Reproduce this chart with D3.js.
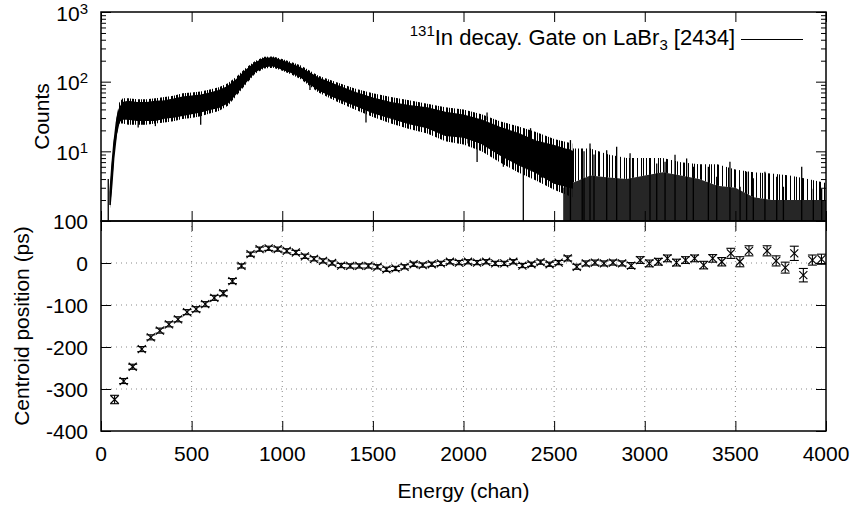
<!DOCTYPE html>
<html>
<head>
<meta charset="utf-8">
<script src="https://cdn.jsdelivr.net/npm/d3@7"></script>
<style>
body { margin: 0; background: #fff; }
svg { font-family: "Liberation Sans", Arial, Helvetica, sans-serif; }
</style>
</head>
<body>
<div id="chart"></div>
<script>
const specE  = [50, 60, 70, 85, 100, 120, 150, 200, 250, 300, 350, 400, 450, 500, 550, 600, 650, 700, 750, 800,
                850, 900, 950, 1000, 1050, 1100, 1200, 1300, 1400, 1500, 1600, 1700, 1800, 1900, 2000, 2100, 2200,
                2300, 2400, 2500, 2600];
const specLo = [1.7, 3.5, 8, 18, 27, 29, 29, 28, 28, 28, 30, 31, 33, 35, 37, 40, 43, 50, 70, 100,
                140, 165, 170, 152, 136, 118, 76, 58, 46, 36, 30, 25, 22, 17, 16, 13, 9,
                6.5, 5, 3.5, 3];
const specHi = [2.6, 6, 12, 26, 40, 50, 52, 50, 50, 52, 53, 56, 60, 62, 64, 68, 74, 85, 108, 145,
                185, 215, 218, 198, 178, 158, 112, 88, 70, 58, 50, 45, 42, 36, 33, 28, 22,
                18, 14, 12, 10];
const outLo  = [1.5, 3, 7, 16, 25, 25, 24, 24, 24, 25, 26, 27, 29, 30, 32, 35, 38, 45, 64, 92,
                130, 155, 158, 143, 127, 109, 70, 52, 40, 31, 25, 21, 18, 14, 12.5, 10, 7,
                5, 3.8, 2.8, 2.2];
const outHi  = [2.8, 7, 14, 30, 50, 58, 58, 56, 56, 58, 60, 63, 68, 70, 72, 77, 83, 95, 120, 158,
                198, 228, 230, 212, 192, 172, 122, 98, 80, 68, 60, 54, 48, 43, 40, 34, 27,
                23, 19, 15, 13];

// tail where many channels drop to zero: top of the mostly black part and top of the sparse spikes
const tailE     = [2550, 2600, 2700, 2800, 2900, 3000, 3100, 3200, 3300, 3400, 3500, 3600, 3700, 3800, 3900, 4000];
const tailDense = [3, 3.5, 4.5, 4.2, 4, 4.5, 5, 4.5, 4, 3.2, 3, 2.2, 2, 2, 2, 2];
const tailTop   = [10, 11, 11, 9, 8, 8, 8, 7, 6.5, 6.5, 5.5, 5, 4.8, 4.5, 4, 3.5];

// single channels that stick out of the band
const spikeE  = [40, 205, 230, 300, 550, 1153, 1462, 2025, 2075, 2130, 2220, 2330, 2370, 2430, 2590, 2655, 2665,
                 2698, 2720, 2790, 2845, 2919, 3029, 3066, 3112, 3167, 3231, 3268, 3351, 3397, 3470, 3526, 3562,
                 3599, 3663, 3728, 3765, 3866, 3930, 3976];
const spikeLo = [1, 22, 24, 23, 24, 76, 26, 13, 7, 28, 6, 1, 14, 4.2, 1, 1, 1,
                 1, 1, 1, 1, 1, 1, 1, 1, 1, 1, 1, 1, 1, 1, 1, 1,
                 1, 1, 1, 1, 1, 1, 1];
const spikeHi = [4, 35, 35, 35, 40, 100, 45, 25, 20, 36, 15, 10, 21.5, 8, 14.5, 10, 10,
                 13, 9, 10.4, 11.6, 9.4, 7.5, 6.7, 7.1, 8.9, 7.9, 6, 6, 4.3, 7.1, 3.1, 5.1,
                 4.1, 5.1, 4.3, 3.1, 6, 2.9, 2.9];

// Lower panel: centroid position (ps) with errors
const centE = [75, 125, 175, 225, 275, 325, 375, 425, 475, 525, 575, 625, 675, 725, 775, 825, 875, 925, 975,
               1025, 1075, 1125, 1175, 1225, 1275, 1325, 1375, 1425, 1475, 1525, 1575, 1625, 1675, 1725, 1775,
               1825, 1875, 1925, 1975, 2025, 2075, 2125, 2175, 2225, 2275, 2325, 2375, 2425, 2475, 2525, 2575,
               2625, 2675, 2725, 2775, 2825, 2875, 2925, 2975, 3025, 3075, 3125, 3175, 3225, 3275, 3325, 3375,
               3425, 3475, 3525, 3575, 3675, 3725, 3775, 3825, 3875, 3925, 3975];
const centVal = [-325, -281, -247, -205, -177, -161, -146, -134, -117, -110, -98, -83, -72, -43, -7, 21, 33, 35, 33,
                 29, 25, 16, 10, 5, 0, -6, -7, -7, -7, -9, -15, -13, -9, -3, -5,
                 -3, -1, 3, 1, 3, 1, 3, -1, -1, 3, -6, -3, 2, -3, 1, 11,
                 -9, -1, 1, -1, 1, -1, -6, 7, -1, 3, 11, 1, 7, 11, -5, 11,
                 3, 23, 3, 29, 29, 5, -11, 23, -29, 7, 9];
const centErr = [10, 6, 6, 6, 6, 6, 6, 6, 6, 6, 6, 6, 6, 6, 5, 5, 5, 5, 5,
                 5, 5, 5, 5, 5, 5, 5, 5, 5, 5, 5, 5, 5, 5, 5, 5,
                 5, 5, 5, 5, 5, 5, 5, 5, 5, 5, 5, 5, 5, 5, 5, 6,
                 6, 6, 6, 6, 6, 6, 7, 8, 8, 8, 8, 8, 8, 8, 9, 9,
                 10, 12, 12, 12, 12, 12, 13, 17, 16, 12, 12];

const xTicks = [0, 500, 1000, 1500, 2000, 2500, 3000, 3500, 4000];
const logMajor = [1, 10, 100, 1000];
const logMinor = [2, 3, 4, 5, 6, 7, 8, 9, 20, 30, 40, 50, 60, 70, 80, 90, 200, 300, 400, 500, 600, 700, 800, 900];
const logLabels = [10, 100, 1000];
const linTicks = [100, 0, -100, -200, -300, -400];
const legendText = "In decay. Gate on LaBr";

// Layout
const W = 852, H = 511;
const left = 101, right = 826;
const top1 = 12, mid = 221, bot2 = 431;
const fs = "21px";

const svg = d3.select("#chart").append("svg")
    .attr("width", W)
    .attr("height", H);

const x = d3.scaleLinear().domain([0, 4000]).range([left, right]);
const y1 = d3.scaleLog().domain([1, 1000]).range([mid, top1]);
const y2 = d3.scaleLinear().domain([-400, 100]).range([bot2, mid]);

// uneven stripe patterns to imitate the channel-by-channel noise
const defs = svg.append("defs");
function stripes(id, period, bars) {
    const p = defs.append("pattern").attr("id", id)
        .attr("patternUnits", "userSpaceOnUse")
        .attr("width", period).attr("height", 10);
    bars.forEach(b => p.append("rect")
        .attr("x", b[0]).attr("y", 0).attr("width", b[1]).attr("height", 10).attr("fill", "#000"));
}
stripes("half", 11, [[0, 2], [3, 1], [6, 2], [9, 1]]);
stripes("sparse", 17, [[0, 1], [3, 2], [8, 1], [12, 1], [14, 1]]);
defs.append("clipPath").attr("id", "clipUp")
    .append("rect").attr("x", left).attr("y", top1).attr("width", right - left).attr("height", mid - top1);

// ---------- upper panel ----------
const up = svg.append("g");
const plotUp = up.append("g").attr("clip-path", "url(#clipUp)");

// tail (channels dropping to zero)
plotUp.append("path")
    .datum(tailE)
    .attr("d", d3.area().x(d => x(d)).y0(y1(1)).y1((d, i) => y1(tailDense[i])))
    .attr("fill", "#000")
    .attr("fill-opacity", 0.85);
plotUp.append("path")
    .datum(tailE)
    .attr("d", d3.area().x(d => x(d)).y0((d, i) => y1(tailDense[i])).y1((d, i) => y1(tailTop[i])))
    .attr("fill", "url(#sparse)");

// outer noise, then the solid core
plotUp.append("path")
    .datum(specE)
    .attr("d", d3.area().x(d => x(d)).y0((d, i) => y1(outLo[i])).y1((d, i) => y1(outHi[i])))
    .attr("fill", "url(#half)");
plotUp.append("path")
    .datum(specE)
    .attr("d", d3.area().x(d => x(d)).y0((d, i) => y1(specLo[i])).y1((d, i) => y1(specHi[i])))
    .attr("fill", "#000")
    .attr("stroke", "#000")
    .attr("stroke-width", 1.5);

// spikes
plotUp.selectAll(".spike")
    .data(spikeE)
    .enter().append("line")
    .attr("class", "spike")
    .attr("x1", d => x(d)).attr("x2", d => x(d))
    .attr("y1", (d, i) => y1(spikeLo[i]))
    .attr("y2", (d, i) => y1(spikeHi[i]))
    .attr("stroke", "#000")
    .attr("stroke-width", 1.3);

// axes of the upper panel (ticks only, labels drawn below)
function ticksOnly(axis, g) {
    g.call(axis);
    g.select(".domain").remove();
    g.selectAll("line").attr("stroke", "#000").attr("stroke-width", 1);
}
ticksOnly(d3.axisLeft(y1).tickValues(logMajor).tickSize(-10).tickFormat(""), up.append("g").attr("transform", `translate(${left},0)`));
ticksOnly(d3.axisLeft(y1).tickValues(logMinor).tickSize(-5).tickFormat(""), up.append("g").attr("transform", `translate(${left},0)`));
ticksOnly(d3.axisRight(y1).tickValues(logMajor).tickSize(-10).tickFormat(""), up.append("g").attr("transform", `translate(${right},0)`));
ticksOnly(d3.axisRight(y1).tickValues(logMinor).tickSize(-5).tickFormat(""), up.append("g").attr("transform", `translate(${right},0)`));
ticksOnly(d3.axisTop(x).tickValues(xTicks).tickSize(-10).tickFormat(""), up.append("g").attr("transform", `translate(0,${top1})`));
ticksOnly(d3.axisBottom(x).tickValues(xTicks).tickSize(-10).tickFormat(""), up.append("g").attr("transform", `translate(0,${mid})`));

// log labels 10^n
const logLab = up.selectAll(".logLab")
    .data(logLabels)
    .enter().append("text")
    .attr("class", "logLab")
    .attr("x", left - 13)
    .attr("y", d => y1(d) + 8.5)
    .attr("text-anchor", "end")
    .attr("font-size", fs);
logLab.append("tspan").text("10");
logLab.append("tspan").attr("dy", -7).attr("font-size", "15px").text(d => Math.round(Math.log10(d)));

up.append("rect")
    .attr("x", left).attr("y", top1)
    .attr("width", right - left).attr("height", mid - top1)
    .attr("fill", "none").attr("stroke", "#000").attr("stroke-width", 1.5);

up.append("text")
    .attr("transform", `translate(42,${(top1 + mid) / 2}) rotate(-90)`)
    .attr("text-anchor", "middle")
    .attr("dy", "0.35em")
    .attr("font-size", fs)
    .text("Counts");

// legend
const leg = up.append("text")
    .attr("x", 735).attr("y", 45)
    .attr("text-anchor", "end")
    .attr("font-size", "22px");
leg.append("tspan").attr("font-size", "15px").attr("dy", -9).text("131");
leg.append("tspan").attr("dy", 9).text(legendText);
leg.append("tspan").attr("font-size", "15px").attr("dy", 5).text("3");
leg.append("tspan").attr("dy", -5).text("\u00a0[2434]");
up.append("line")
    .attr("x1", 741).attr("x2", 803)
    .attr("y1", 39.5).attr("y2", 39.5)
    .attr("stroke", "#000").attr("stroke-width", 1.2);

// ---------- lower panel ----------
const lo = svg.append("g");

// dotted grid
lo.selectAll(".gx")
    .data(xTicks.slice(1, -1))
    .enter().append("line")
    .attr("class", "gx")
    .attr("x1", d => x(d)).attr("x2", d => x(d))
    .attr("y1", mid).attr("y2", bot2)
    .attr("stroke", "#888").attr("stroke-width", 1).attr("stroke-dasharray", "1,4");
lo.selectAll(".gy")
    .data(linTicks.slice(1, -1))
    .enter().append("line")
    .attr("class", "gy")
    .attr("x1", left).attr("x2", right)
    .attr("y1", d => y2(d)).attr("y2", d => y2(d))
    .attr("stroke", "#888").attr("stroke-width", 1).attr("stroke-dasharray", "1,4");

ticksOnly(d3.axisLeft(y2).tickValues(linTicks).tickSize(-10).tickFormat(""), lo.append("g").attr("transform", `translate(${left},0)`));
ticksOnly(d3.axisRight(y2).tickValues(linTicks).tickSize(-10).tickFormat(""), lo.append("g").attr("transform", `translate(${right},0)`));
ticksOnly(d3.axisTop(x).tickValues(xTicks).tickSize(-10).tickFormat(""), lo.append("g").attr("transform", `translate(0,${mid})`));
ticksOnly(d3.axisBottom(x).tickValues(xTicks).tickSize(-10).tickFormat(""), lo.append("g").attr("transform", `translate(0,${bot2})`));

lo.selectAll(".yLab")
    .data(linTicks)
    .enter().append("text")
    .attr("class", "yLab")
    .attr("x", left - 13)
    .attr("y", d => y2(d) + 7.5)
    .attr("text-anchor", "end")
    .attr("font-size", fs)
    .text(d => d);

lo.selectAll(".xLab")
    .data(xTicks)
    .enter().append("text")
    .attr("class", "xLab")
    .attr("x", d => x(d))
    .attr("y", 461)
    .attr("text-anchor", "middle")
    .attr("font-size", fs)
    .text(d => d);

// error bars with caps and an x marker
const pts = lo.selectAll(".pt")
    .data(centE)
    .enter().append("g")
    .attr("class", "pt")
    .attr("transform", (d, i) => `translate(${x(d)},${y2(centVal[i])})`)
    .attr("stroke", "#000")
    .attr("stroke-width", 1.1);
pts.append("line")
    .attr("x1", 0).attr("x2", 0)
    .attr("y1", (d, i) => y2(centVal[i] - centErr[i]) - y2(centVal[i]))
    .attr("y2", (d, i) => y2(centVal[i] + centErr[i]) - y2(centVal[i]));
pts.append("line")
    .attr("x1", -4.5).attr("x2", 4.5)
    .attr("y1", (d, i) => y2(centVal[i] - centErr[i]) - y2(centVal[i]))
    .attr("y2", (d, i) => y2(centVal[i] - centErr[i]) - y2(centVal[i]));
pts.append("line")
    .attr("x1", -4.5).attr("x2", 4.5)
    .attr("y1", (d, i) => y2(centVal[i] + centErr[i]) - y2(centVal[i]))
    .attr("y2", (d, i) => y2(centVal[i] + centErr[i]) - y2(centVal[i]));
pts.append("path").attr("d", "M-4,-4L4,4M-4,4L4,-4");

lo.append("rect")
    .attr("x", left).attr("y", mid)
    .attr("width", right - left).attr("height", bot2 - mid)
    .attr("fill", "none").attr("stroke", "#000").attr("stroke-width", 1.5);

lo.append("text")
    .attr("transform", `translate(22,${(mid + bot2) / 2}) rotate(-90)`)
    .attr("text-anchor", "middle")
    .attr("dy", "0.35em")
    .attr("font-size", fs)
    .text("Centroid position (ps)");

svg.append("text")
    .attr("x", (left + right) / 2)
    .attr("y", 498)
    .attr("text-anchor", "middle")
    .attr("font-size", fs)
    .text("Energy (chan)");
</script>
</body>
</html>
